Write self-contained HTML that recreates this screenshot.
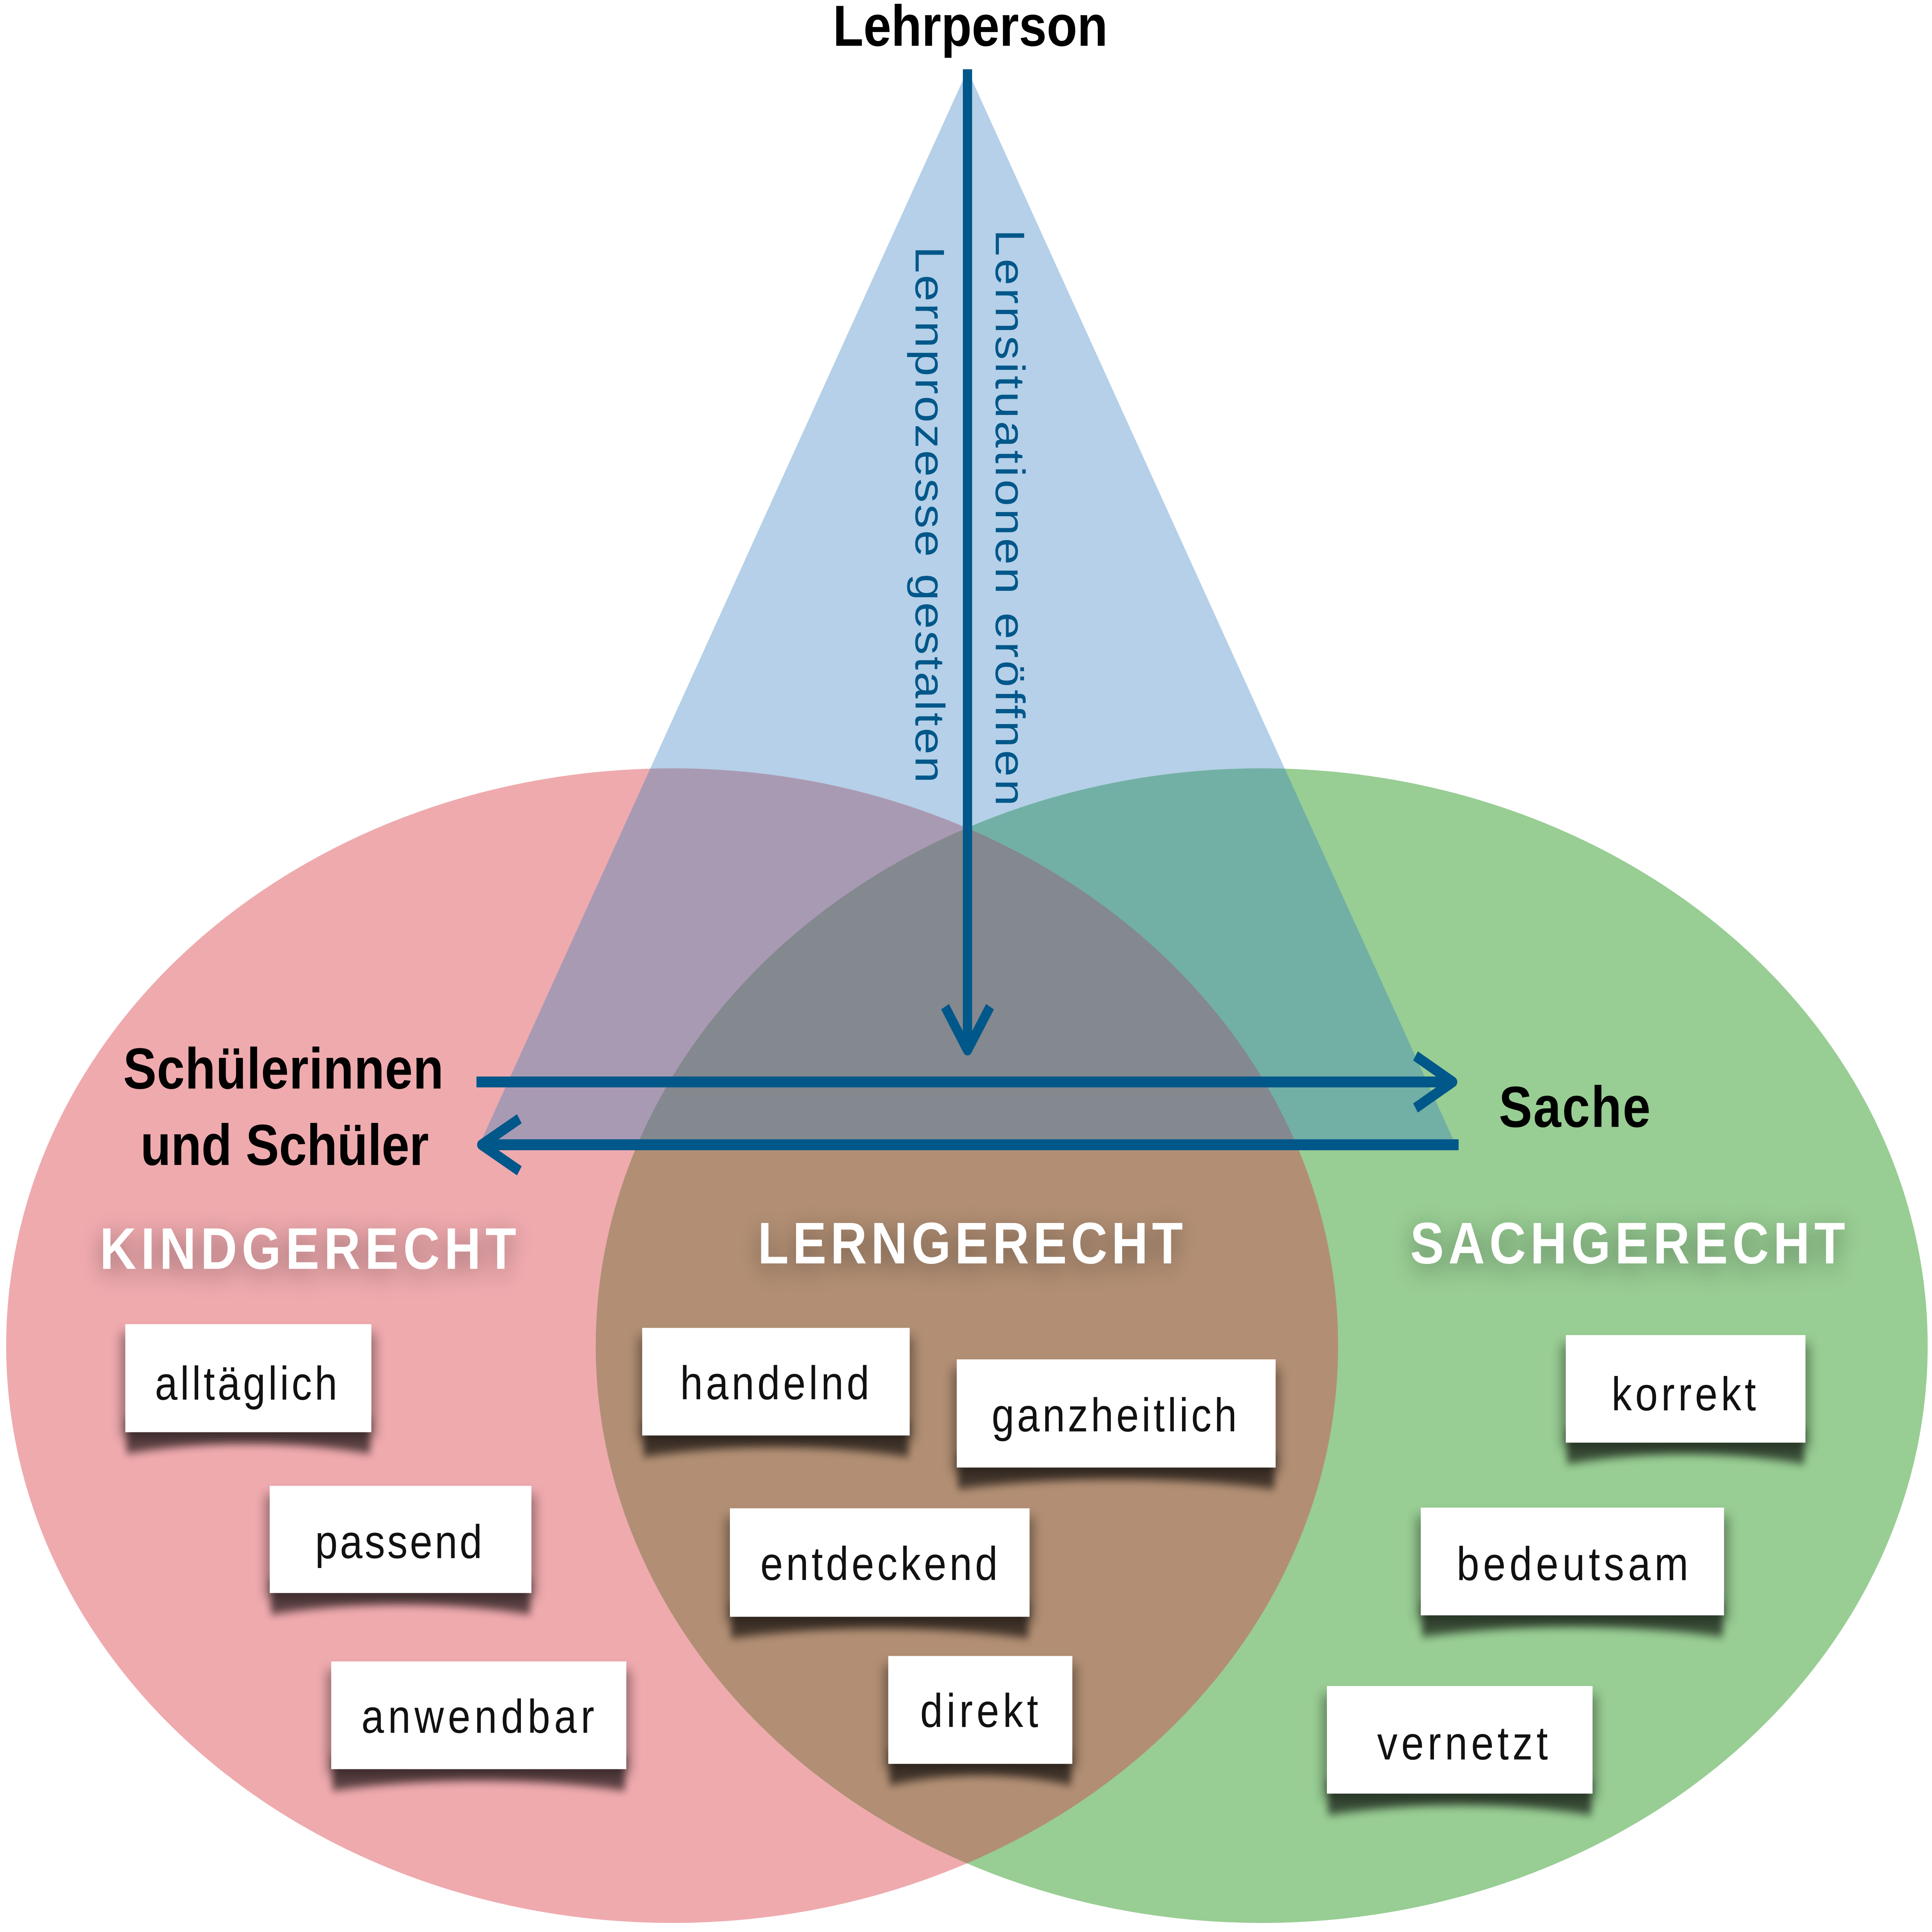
<!DOCTYPE html>
<html>
<head>
<meta charset="utf-8">
<style>
  html,body{margin:0;padding:0;background:#fff;width:100%;height:100%;overflow:hidden;}
  svg{display:block;position:fixed;left:0;top:0;width:100vw;height:100vh;}
  .lb{font-family:"Liberation Sans",Arial,sans-serif;font-weight:bold;fill:#000;font-size:40.5px;}
  .hd{font-family:"Liberation Sans",Arial,sans-serif;font-weight:bold;fill:#fff;font-size:41px;}
  .vt{font-family:"Liberation Sans",Arial,sans-serif;font-weight:normal;fill:#00578a;font-size:33.5px;}
  .cw{font-family:"Liberation Sans",Arial,sans-serif;font-weight:normal;fill:#111;font-size:33px;}
</style>
</head>
<body>
<svg width="100%" height="100%" viewBox="0 0 1568 1350.32" preserveAspectRatio="none" xmlns="http://www.w3.org/2000/svg">
  <defs>
    <clipPath id="cR"><ellipse cx="545.5" cy="940.5" rx="540.5" ry="403.5"/></clipPath>
    <clipPath id="cG"><ellipse cx="1024" cy="940.5" rx="540.5" ry="403.5"/></clipPath>
    <filter id="glow" x="-15%" y="-90%" width="130%" height="280%">
      <feGaussianBlur in="SourceAlpha" stdDeviation="9"/>
      <feOffset dy="4" result="b"/>
      <feComponentTransfer><feFuncA type="linear" slope="0.4"/></feComponentTransfer>
      <feMerge><feMergeNode/><feMergeNode in="SourceGraphic"/></feMerge>
    </filter>
    <filter id="b5" x="-20%" y="-50%" width="140%" height="200%"><feGaussianBlur stdDeviation="4"/></filter>
    <filter id="b3" x="-20%" y="-100%" width="140%" height="300%"><feGaussianBlur stdDeviation="3"/></filter>
  </defs>

  <!-- background shapes -->
  <polygon points="785.2,49 389.1,800 1181.3,800" fill="#b5d0e8"/>
  <ellipse cx="545.5" cy="940.5" rx="540.5" ry="403.5" fill="#efaaae"/>
  <ellipse cx="1024" cy="940.5" rx="540.5" ry="403.5" fill="#98cd93"/>
  <ellipse cx="1024" cy="940.5" rx="540.5" ry="403.5" fill="#b28f74" clip-path="url(#cR)"/>
  <polygon points="785.2,49 389.1,800 1181.3,800" fill="#a99ab4" clip-path="url(#cR)"/>
  <polygon points="785.2,49 389.1,800 1181.3,800" fill="#72b0a5" clip-path="url(#cG)"/>
  <g clip-path="url(#cR)">
    <polygon points="785.2,49 389.1,800 1181.3,800" fill="#84888f" clip-path="url(#cG)"/>
  </g>

  <!-- arrows -->
  <g stroke="#00578a" fill="none">
    <line x1="785.2" y1="48.4" x2="785.2" y2="732" stroke-width="7.5"/>
    <polyline points="767,703.6 785.2,734 803.5,703.6" stroke-width="7.4" stroke-linejoin="round" stroke-linecap="butt"/>
    <line x1="386.7" y1="756.2" x2="1177" y2="756.2" stroke-width="7.6"/>
    <polyline points="1148.8,738 1179,756.2 1148.8,774.4" stroke-width="7.4" stroke-linejoin="round" stroke-linecap="butt"/>
    <line x1="393" y1="800.1" x2="1183.8" y2="800.1" stroke-width="7.6"/>
    <polyline points="421.5,781.9 390.9,800.1 421.5,818.3" stroke-width="7.4" stroke-linejoin="round" stroke-linecap="butt"/>
  </g>

  <!-- vertical labels -->
  <text class="vt" transform="translate(743.1 172.2) rotate(90)" textLength="375" lengthAdjust="spacing">Lernprozesse gestalten</text>
  <text class="vt" transform="translate(808.1 160.3) rotate(90)" textLength="403" lengthAdjust="spacing">Lernsituationen eröffnen</text>

  <!-- black labels -->
  <text class="lb" x="676" y="32" textLength="223" lengthAdjust="spacing">Lehrperson</text>
  <text class="lb" x="100" y="760.8" textLength="260" lengthAdjust="spacing">Schülerinnen</text>
  <text class="lb" x="114" y="814.2" textLength="234" lengthAdjust="spacing">und Schüler</text>
  <text class="lb" x="1216.5" y="787.6" textLength="123" lengthAdjust="spacing">Sache</text>

  <!-- headings -->
  <text class="hd" x="81" y="886.8" textLength="338" lengthAdjust="spacing" filter="url(#glow)">KINDGERECHT</text>
  <text class="hd" x="615" y="883" textLength="345" lengthAdjust="spacing" filter="url(#glow)">LERNGERECHT</text>
  <text class="hd" x="1144.5" y="883" textLength="353" lengthAdjust="spacing" filter="url(#glow)">SACHGERECHT</text>

  <!-- cards -->
  <g transform="translate(101.7 925.5)">
    <rect x="-4" y="6" width="207.7" height="73.5" fill="#000" opacity="0.33" filter="url(#b5)"/>
    <path d="M1 65.5 H198.7 V90.5 Q99.85 76.5 1 90.5Z" fill="#000" opacity="0.62" filter="url(#b3)"/>
    <rect width="199.7" height="75.5" fill="#fff"/>
    <text class="cw" x="24" y="52.8" textLength="148" lengthAdjust="spacing">alltäglich</text>
  </g>
  <g transform="translate(218.9 1038.5)">
    <rect x="-4" y="6" width="220.4" height="72.9" fill="#000" opacity="0.33" filter="url(#b5)"/>
    <path d="M1 64.9 H211.4 V89.9 Q106.2 75.9 1 89.9Z" fill="#000" opacity="0.62" filter="url(#b3)"/>
    <rect width="212.4" height="74.9" fill="#fff"/>
    <text class="cw" x="36.8" y="50.5" textLength="135.6" lengthAdjust="spacing">passend</text>
  </g>
  <g transform="translate(268.8 1161.2)">
    <rect x="-4" y="6" width="247.5" height="73.3" fill="#000" opacity="0.33" filter="url(#b5)"/>
    <path d="M1 65.3 H238.5 V90.3 Q119.75 76.3 1 90.3Z" fill="#000" opacity="0.62" filter="url(#b3)"/>
    <rect width="239.5" height="75.3" fill="#fff"/>
    <text class="cw" x="24.5" y="49.9" textLength="189" lengthAdjust="spacing">anwendbar</text>
  </g>
  <g transform="translate(521.2 928.1)">
    <rect x="-4" y="6" width="225.1" height="73.2" fill="#000" opacity="0.33" filter="url(#b5)"/>
    <path d="M1 65.2 H216.1 V90.2 Q108.55 76.2 1 90.2Z" fill="#000" opacity="0.62" filter="url(#b3)"/>
    <rect width="217.1" height="75.2" fill="#fff"/>
    <text class="cw" x="30.8" y="50" textLength="153.5" lengthAdjust="spacing">handelnd</text>
  </g>
  <g transform="translate(776.5 950.1)">
    <rect x="-4" y="6" width="266.8" height="73.6" fill="#000" opacity="0.33" filter="url(#b5)"/>
    <path d="M1 65.6 H257.8 V90.6 Q129.4 76.6 1 90.6Z" fill="#000" opacity="0.62" filter="url(#b3)"/>
    <rect width="258.8" height="75.6" fill="#fff"/>
    <text class="cw" x="28.3" y="50.4" textLength="199" lengthAdjust="spacing">ganzheitlich</text>
  </g>
  <g transform="translate(592.4 1054.2)">
    <rect x="-4" y="6" width="251.2" height="73.8" fill="#000" opacity="0.33" filter="url(#b5)"/>
    <path d="M1 65.8 H242.2 V90.8 Q121.6 76.8 1 90.8Z" fill="#000" opacity="0.62" filter="url(#b3)"/>
    <rect width="243.2" height="75.8" fill="#fff"/>
    <text class="cw" x="24.7" y="50.1" textLength="192.6" lengthAdjust="spacing">entdeckend</text>
  </g>
  <g transform="translate(720.9 1157.4)">
    <rect x="-4" y="6" width="157.4" height="73.4" fill="#000" opacity="0.33" filter="url(#b5)"/>
    <path d="M1 65.4 H148.4 V90.4 Q74.7 76.4 1 90.4Z" fill="#000" opacity="0.62" filter="url(#b3)"/>
    <rect width="149.4" height="75.4" fill="#fff"/>
    <text class="cw" x="25.9" y="49.6" textLength="95.8" lengthAdjust="spacing">direkt</text>
  </g>
  <g transform="translate(1270.8 933.1)">
    <rect x="-4" y="6" width="202.5" height="73.2" fill="#000" opacity="0.33" filter="url(#b5)"/>
    <path d="M1 65.2 H193.5 V90.2 Q97.25 76.2 1 90.2Z" fill="#000" opacity="0.62" filter="url(#b3)"/>
    <rect width="194.5" height="75.2" fill="#fff"/>
    <text class="cw" x="37.1" y="52.6" textLength="117.2" lengthAdjust="spacing">korrekt</text>
  </g>
  <g transform="translate(1153.1 1053.7)">
    <rect x="-4" y="6" width="254.1" height="73.3" fill="#000" opacity="0.33" filter="url(#b5)"/>
    <path d="M1 65.3 H245.1 V90.3 Q123.05 76.3 1 90.3Z" fill="#000" opacity="0.62" filter="url(#b3)"/>
    <rect width="246.1" height="75.3" fill="#fff"/>
    <text class="cw" x="29.1" y="50.7" textLength="188" lengthAdjust="spacing">bedeutsam</text>
  </g>
  <g transform="translate(1076.9 1178.4)">
    <rect x="-4" y="6" width="223.6" height="73.2" fill="#000" opacity="0.33" filter="url(#b5)"/>
    <path d="M1 65.2 H214.6 V90.2 Q107.8 76.2 1 90.2Z" fill="#000" opacity="0.62" filter="url(#b3)"/>
    <rect width="215.6" height="75.2" fill="#fff"/>
    <text class="cw" x="40.8" y="51.4" textLength="138.5" lengthAdjust="spacing">vernetzt</text>
  </g>
</svg>
</body>
</html>
